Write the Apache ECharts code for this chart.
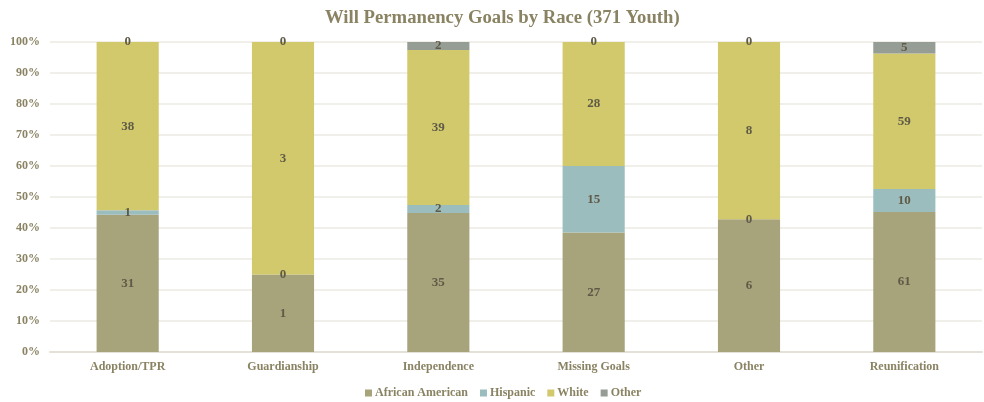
<!DOCTYPE html>
<html>
<head>
<meta charset="utf-8">
<script src="https://cdn.jsdelivr.net/npm/echarts@6/dist/echarts.min.js"></script>
<style>
  html, body { margin: 0; padding: 0; background: #fff; }
  #chart { width: 984px; height: 402px; }
</style>
</head>
<body>
<div id="chart"></div>
<script>
const categories = ['Adoption/TPR', 'Guardianship', 'Independence', 'Missing Goals', 'Other', 'Reunification']
const africanAmerican = [31, 1, 35, 27, 6, 61]
const hispanic = [1, 0, 2, 15, 0, 10]
const white = [38, 3, 39, 28, 8, 59]
const other = [0, 0, 2, 0, 0, 5]

const seriesDefs = [
  { name: 'African American', data: africanAmerican, color: '#a7a37b' },
  { name: 'Hispanic', data: hispanic, color: '#9cbdbd' },
  { name: 'White', data: white, color: '#d1c96b' },
  { name: 'Other', data: other, color: '#959d95' }
]

// share of each race within a goal, for the 100% stack
const totals = categories.map((c, i) => seriesDefs.reduce((s, d) => s + d.data[i], 0))

const font = 'Liberation Serif'
const axisColor = '#8a8363'

const chart = echarts.init(document.getElementById('chart'))

chart.setOption({
  animation: false,
  title: {
    text: 'Will Permanency Goals by Race (371 Youth)',
    left: 320,
    top: 4,
    textStyle: { fontFamily: font, fontSize: 18.7, fontWeight: 'bold', color: axisColor }
  },
  grid: { left: 50, right: 2, top: 42, bottom: 50 },
  legend: {
    bottom: -2,
    left: 360,
    itemWidth: 7,
    itemHeight: 7,
    itemGap: 12,
    icon: 'rect',
    textStyle: { fontFamily: font, fontSize: 12, fontWeight: 'bold', color: axisColor, padding: [0, 0, 0, -2] },
    data: seriesDefs.map(d => d.name)
  },
  xAxis: {
    type: 'category',
    data: categories,
    axisLine: { lineStyle: { color: '#e4e1d8', width: 2 } },
    axisTick: { show: false },
    axisLabel: { fontFamily: font, fontSize: 12, fontWeight: 'bold', color: axisColor, margin: 9 }
  },
  yAxis: {
    type: 'value',
    min: 0,
    max: 100,
    interval: 10,
    axisLine: { show: false },
    axisTick: { show: false },
    axisLabel: { fontFamily: font, fontSize: 12, fontWeight: 'bold', color: axisColor, formatter: '{value}%', margin: 10 },
    splitLine: { lineStyle: { color: '#eceae3', width: 1.5 } }
  },
  series: seriesDefs.map(d => ({
    name: d.name,
    type: 'bar',
    stack: 'total',
    barWidth: '40%',
    itemStyle: { color: d.color },
    data: d.data.map((v, i) => ({ value: v / totals[i] * 100, count: v })),
    label: {
      show: true,
      position: 'inside',
      fontFamily: font,
      fontSize: 13,
      fontWeight: 'bold',
      color: '#5f5a47',
      formatter: p => p.data.count
    },
    labelLayout: { hideOverlap: false }
  }))
})
</script>
</body>
</html>
